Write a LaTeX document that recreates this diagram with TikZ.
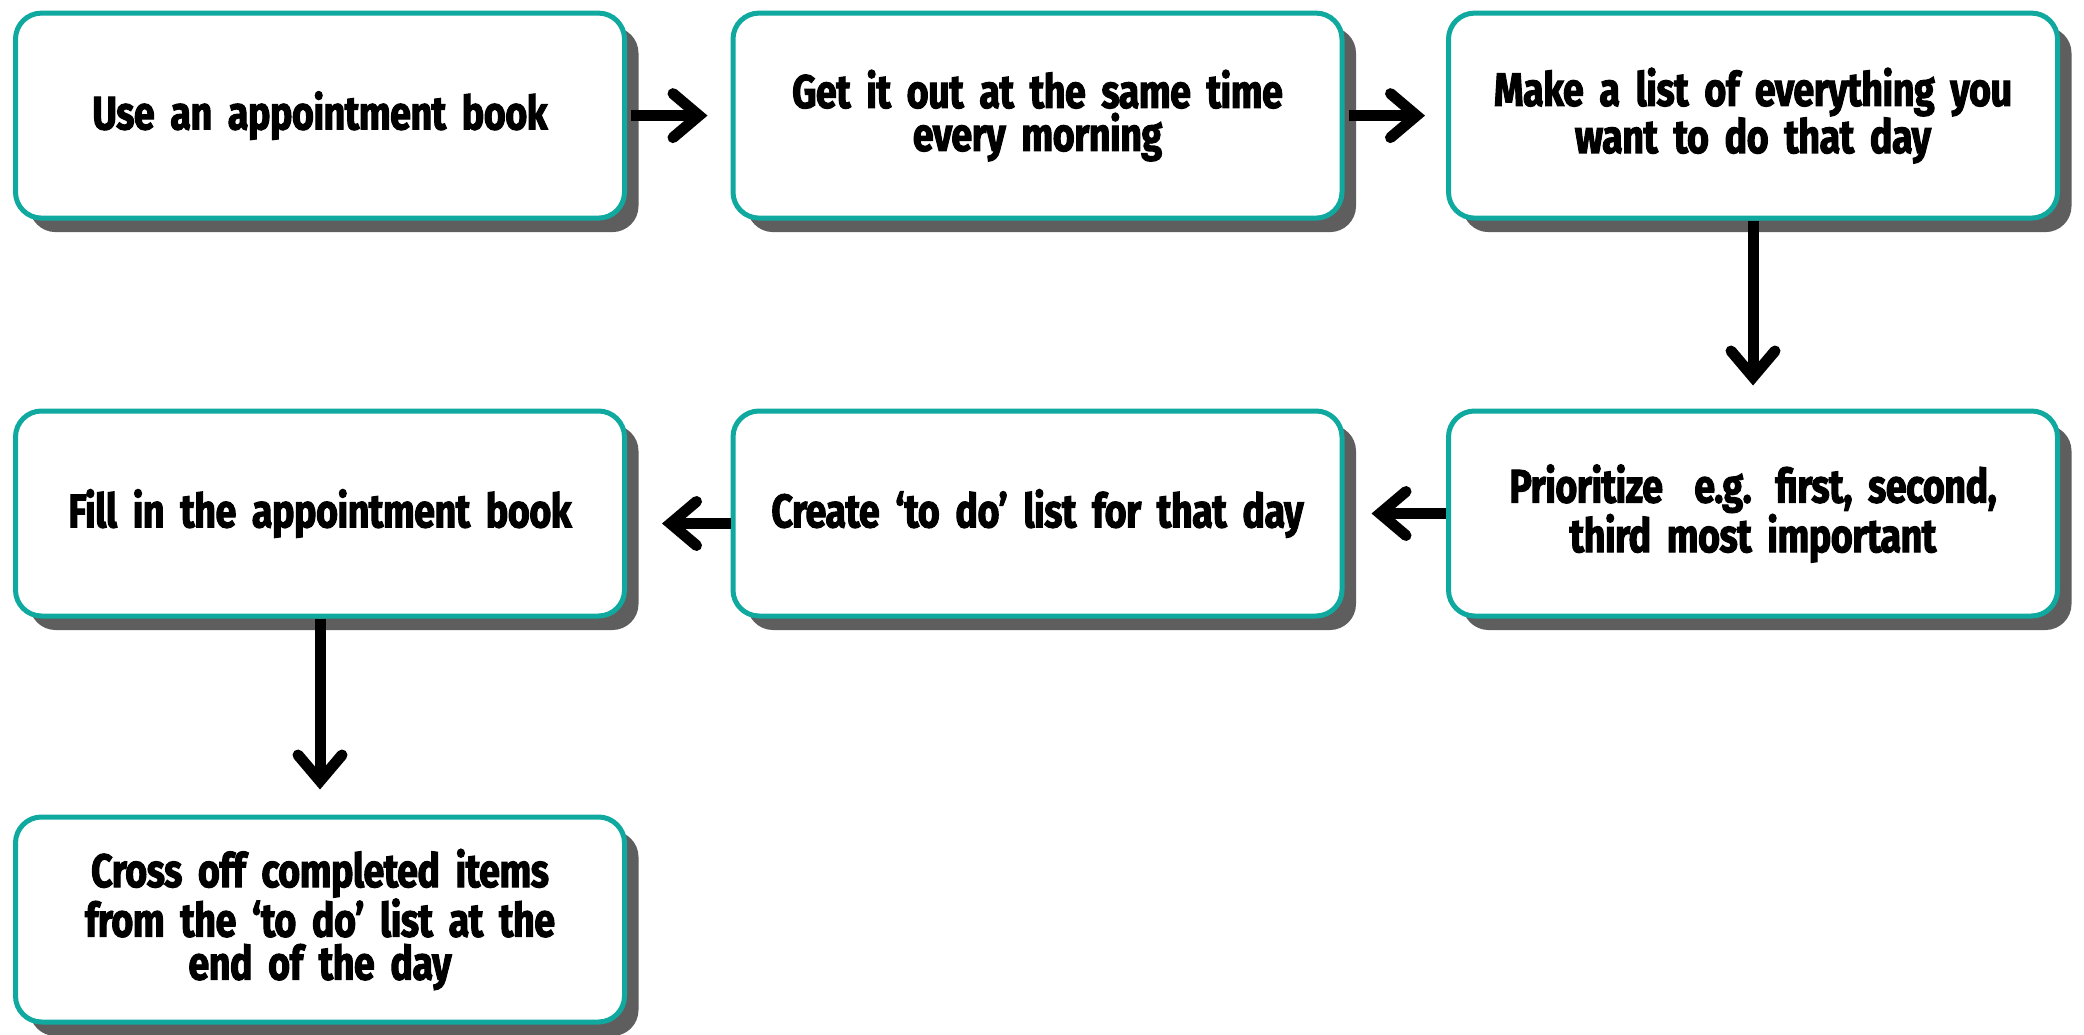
\documentclass[tikz,border=0pt]{standalone}
\usepackage{fontspec}
\setmainfont{Fira Sans}[FakeStretch=0.8, LetterSpace=-1, WordSpace=0.6, BoldFeatures={FakeBold=2.2}]
\usetikzlibrary{arrows.meta,shadows}
\definecolor{tealb}{HTML}{10A9A0}
\definecolor{shadowgray}{HTML}{5E5E5E}
\tikzset{
  stepbox/.style={draw=tealb, line width=5pt, fill=white, rounded corners=26pt,
    minimum width=609pt, minimum height=205pt, align=center, text width=580pt,
    font=\fontsize{47}{43}\selectfont\bfseries,
    drop shadow={shadow xshift=14pt, shadow yshift=-14pt, fill=shadowgray, opacity=1}},
  arr/.style={line width=11pt, -{Straight Barb[length=26pt, width=44pt, line cap=round, line join=miter]}}
}
\begin{document}
\begin{tikzpicture}[x=1pt,y=1pt]
\useasboundingbox (0,0) rectangle (2084,-1035);
\node[stepbox] (b1) at (320,-115.6) {Use an appointment book};
\node[stepbox] (b2) at (1037.5,-115.6) {Get it out at the same time\\every morning};
\node[stepbox] (b3) at (1753,-115.6) {Make a list of everything you\\want to do that day};
\node[stepbox] (b6) at (1753,-513.5) {Prioritize\ \ e.g. first, second,\\third most important};
\node[stepbox] (b5) at (1037.5,-513.5) {Create ‘to do’ list for that day};
\node[stepbox] (b4) at (320,-513.5) {Fill in the appointment book};
\node[stepbox] (b7) at (320,-919.5) {Cross off completed items\\from the ‘to do’ list at the\\end of the day};
\draw[arr, shorten <=4pt, shorten >=23pt] (b1.east) -- (b2.west);
\draw[arr, shorten <=4pt, shorten >=21pt] (b2.east) -- (b3.west);
\draw[arr, shorten <=0pt, shorten >=23pt] (b3.south) -- (b6.north);
\draw[arr, shorten <=0pt, shorten >=27pt] (b6.west) -- (b5.east);
\draw[arr, shorten <=0pt, shorten >=35pt] ([yshift=-10pt]b5.west) -- ([yshift=-10pt]b4.east);
\draw[arr, shorten <=0pt, shorten >=25pt] (b4.south) -- (b7.north);
\end{tikzpicture}
\end{document}
